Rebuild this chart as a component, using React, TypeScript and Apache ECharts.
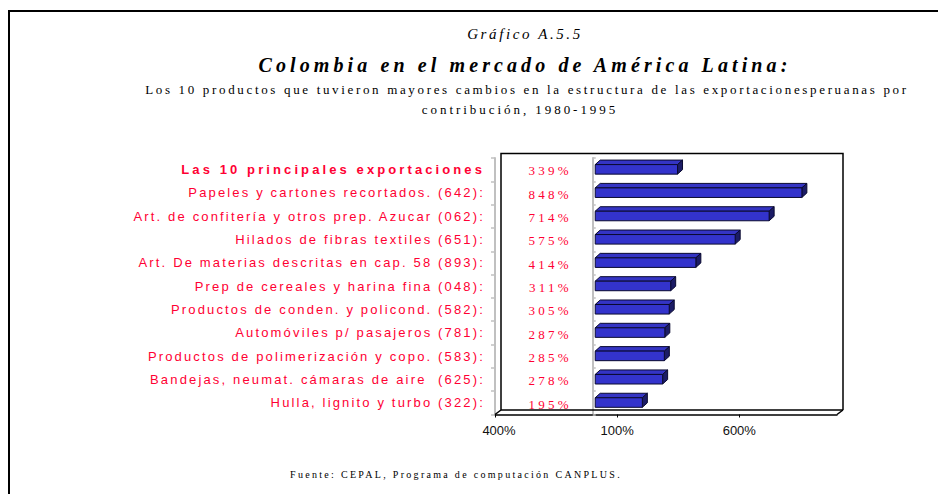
import React, { useEffect, useRef } from 'react';
import * as echarts from 'echarts';

const categories = [
  'Las 10 principales exportaciones',
  'Papeles y cartones recortados. (642):',
  'Art. de confitería y otros prep. Azucar (062):',
  'Hilados de fibras textiles (651):',
  'Art. De materias descritas en cap. 58 (893):',
  'Prep de cereales y harina fina (048):',
  'Productos de conden. y policond. (582):',
  'Automóviles p/ pasajeros (781):',
  'Productos de polimerización y copo. (583):',
  'Bandejas, neumat. cámaras de aire  (625):',
  'Hulla, lignito y turbo (322):',
];
const values = [339, 848, 714, 575, 414, 311, 305, 287, 285, 278, 195];
const tickValues = [-400, 100, 600];
const axisMin = -400;
const axisMax = 1000;

const kicker = 'Gráfico A.5.5';
const titleText = 'Colombia en el mercado de América Latina:';
const subLine1 = 'Los 10 productos que tuvieron mayores cambios en la estructura de las exportacionesperuanas por';
const subLine2 = 'contribución, 1980-1995';
const footer = 'Fuente: CEPAL, Programa de computación CANPLUS.';

const RED = '#ff0033';
const SERIF = '"Liberation Serif", "Times New Roman", serif';
const SANS = '"Liberation Sans", Arial, sans-serif';

const spacingFor = (s: string): number => {
  if (s === titleText) return 4.1;
  if (s === kicker) return 2.6;
  if (s === subLine1) return 2.66;
  if (s === subLine2) return 2.95;
  if (s === footer) return 2.3;
  if (s === categories[0]) return 3.1;
  if (categories.includes(s)) return 2.16;
  if (/^\d+%$/.test(s) && values.includes(parseInt(s, 10))) return 3.2;
  return 0;
};

export default function App() {
  const ref = useRef<HTMLDivElement>(null);
  useEffect(() => {
    if (!ref.current) return;
    const el = ref.current;
    const chart = echarts.init(el, undefined, { renderer: 'svg' });

    const applySpacing = () => {
      el.querySelectorAll('text').forEach((t) => {
        const ls = spacingFor(t.textContent || '');
        if (ls) (t as SVGTextElement).style.letterSpacing = ls + 'px';
      });
    };

    const option: any = {
      animation: false,
      backgroundColor: '#ffffff',
      grid: {
        left: 495,
        width: 342,
        top: 158,
        height: 256.5,
        containLabel: false,
        outerBoundsMode: 'none',
      },
      xAxis: {
        type: 'value',
        min: axisMin,
        max: axisMax,
        axisLine: { show: true, onZero: false, lineStyle: { color: '#000', width: 1.5 } },
        axisTick: { show: true, length: 3, customValues: tickValues, lineStyle: { color: '#000', width: 1 } },
        axisLabel: {
          customValues: tickValues,
          margin: 9,
          fontFamily: SANS,
          fontSize: 13,
          color: '#111',
          formatter: (v: number) => (v < 0 ? `{n|${Math.abs(v)}%}` : `${v}%`),
          rich: { n: { fontFamily: SANS, fontSize: 13, color: '#111', padding: [0, 0, 0, 8] } },
        },
        splitLine: { show: false },
      },
      yAxis: [
        {
          type: 'category',
          data: categories,
          inverse: true,
          position: 'left',
          axisLine: { show: true, onZero: false, lineStyle: { color: '#c0c0c0', width: 2 } },
          axisTick: { show: true, length: 4, lineStyle: { color: '#c0c0c0', width: 1.5 } },
          axisLabel: {
            margin: 10,
            formatter: (v: string, i: number) => (i === 0 ? `{b|${v}}` : `{n|${v}}`),
            rich: {
              b: { fontFamily: SANS, fontSize: 13, fontWeight: 'bold', color: RED },
              n: { fontFamily: SANS, fontSize: 13, color: RED },
            },
          },
          splitLine: { show: false },
        },
        {
          type: 'category',
          data: categories,
          inverse: true,
          position: 'left',
          axisLine: { show: true, onZero: true, lineStyle: { color: '#c0c0c0', width: 2 } },
          axisTick: { show: true, inside: true, length: 3, lineStyle: { color: '#c0c0c0', width: 1.5 } },
          axisLabel: { show: false },
          splitLine: { show: false },
        },
      ],
      graphic: [
        {
          type: 'rect',
          shape: { x: 9, y: 11, width: 2000, height: 2000 },
          style: { fill: 'none', stroke: '#000', lineWidth: 2 },
          silent: true,
        },
        {
          type: 'text',
          style: { text: kicker, x: 525, y: 33.5, textAlign: 'center', textVerticalAlign: 'middle', font: `italic 15px ${SERIF}`, fill: '#000' },
        },
        {
          type: 'text',
          style: { text: titleText, x: 525, y: 64.5, textAlign: 'center', textVerticalAlign: 'middle', font: `italic bold 20px ${SERIF}`, fill: '#000' },
        },
        {
          type: 'text',
          style: { text: subLine1, x: 527, y: 89, textAlign: 'center', textVerticalAlign: 'middle', font: `13px ${SERIF}`, fill: '#000' },
        },
        {
          type: 'text',
          style: { text: subLine2, x: 520, y: 109.5, textAlign: 'center', textVerticalAlign: 'middle', font: `13px ${SERIF}`, fill: '#000' },
        },
        {
          type: 'text',
          style: { text: footer, x: 456, y: 474, textAlign: 'center', textVerticalAlign: 'middle', font: `10px ${SERIF}`, fill: '#000' },
        },
      ],
      series: [
        {
          type: 'custom',
          name: 'frame',
          silent: true,
          clip: false,
          z: 1,
          data: [[0, 0]],
          encode: { x: 0, y: 1 },
          renderItem: (params: any) => {
            const cs = params.coordSys;
            const L = cs.x;
            const T = cs.y;
            const R = cs.x + cs.width;
            const B = cs.y + cs.height;
            const dx = 6;
            const dy = 4.5;
            const st = { stroke: '#000', lineWidth: 1.5, fill: 'none' };
            return {
              type: 'group',
              children: [
                {
                  type: 'polyline',
                  shape: { points: [[L + dx, B - dy], [L + dx, T - dy], [R + dx, T - dy], [R + dx, B - dy]] },
                  style: st,
                },
                { type: 'line', shape: { x1: L + dx, y1: B - dy, x2: R + dx, y2: B - dy }, style: st },
                { type: 'line', shape: { x1: L, y1: B, x2: L + dx, y2: B - dy }, style: st },
                { type: 'line', shape: { x1: R, y1: B, x2: R + dx, y2: B - dy }, style: st },
              ],
            };
          },
        },
        {
          type: 'custom',
          name: 'bars',
          silent: true,
          clip: false,
          z: 3,
          data: values.map((v, i) => [v, i]),
          encode: { x: 0, y: 1 },
          renderItem: (params: any, api: any) => {
            const v = api.value(0);
            const idx = api.value(1);
            const p0 = api.coord([0, idx]);
            const p1 = api.coord([v, idx]);
            const band = api.size([0, 1])[1];
            const h = band * 0.41;
            const xl = p0[0] + 2.5;
            const xr = p1[0] + 2;
            const yc = p0[1] - 0.3;
            const yt = yc - h / 2;
            const yb = yc + h / 2;
            const dx = 5;
            const dy = 4.5;
            const edge = { stroke: '#0a0a30', lineWidth: 1 };
            return {
              type: 'group',
              children: [
                {
                  type: 'polygon',
                  shape: { points: [[xl, yt], [xl + dx, yt - dy], [xr + dx, yt - dy], [xr, yt]] },
                  style: { fill: '#3434c4', ...edge },
                },
                {
                  type: 'polygon',
                  shape: { points: [[xr, yt], [xr + dx, yt - dy], [xr + dx, yb - dy], [xr, yb]] },
                  style: { fill: '#1c1c66', ...edge },
                },
                {
                  type: 'rect',
                  shape: { x: xl, y: yt, width: xr - xl, height: yb - yt },
                  style: { fill: '#3333cc', ...edge },
                },
                {
                  type: 'text',
                  style: {
                    text: v + '%',
                    x: p0[0] - 21,
                    y: yc + 1.5,
                    textAlign: 'right',
                    textVerticalAlign: 'middle',
                    font: `13px ${SERIF}`,
                    fill: RED,
                  },
                },
              ],
            };
          },
        },
      ],
    };

    chart.setOption(option);
    applySpacing();
    chart.on('finished', applySpacing);
    return () => {
      chart.dispose();
    };
  }, []);

  return (
    <div
      ref={ref}
      style={{ position: 'absolute', left: 0, top: 0, width: 938, height: 494, background: '#fff' }}
    />
  );
}
